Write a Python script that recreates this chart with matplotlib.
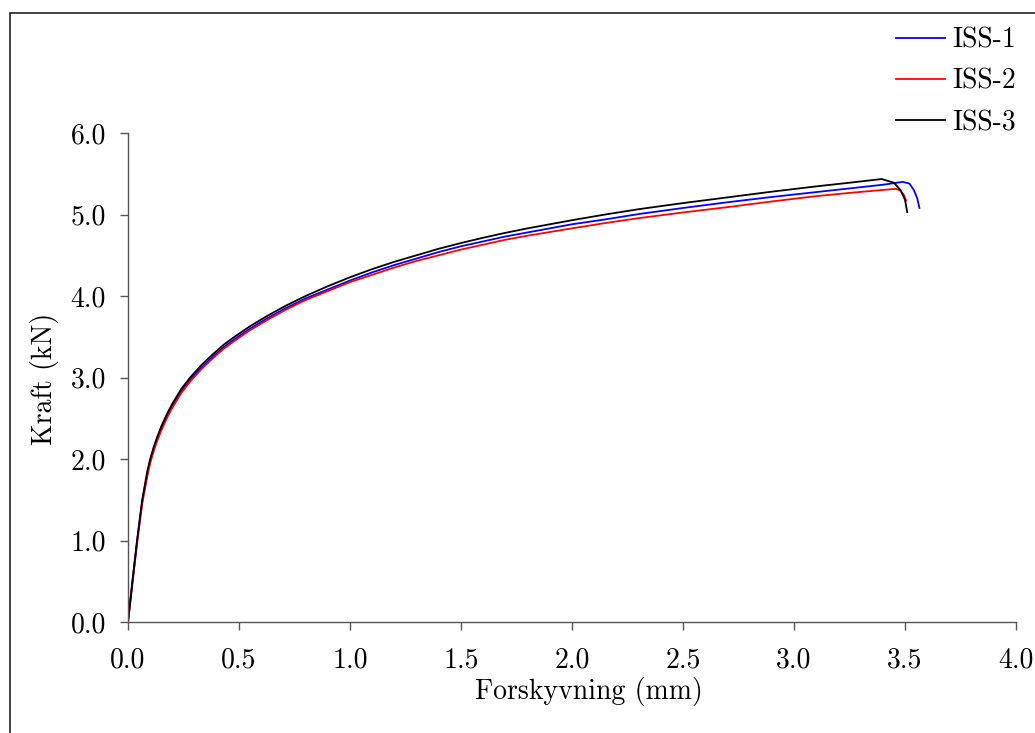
import matplotlib
matplotlib.use("Agg")
import matplotlib.pyplot as plt
from matplotlib.patches import Rectangle
from matplotlib.ticker import FormatStrFormatter

# kraft-forskyvning
x_iss3 = [0, 0.019, 0.041, 0.064, 0.087, 0.10, 0.115, 0.13, 0.15, 0.175, 0.2, 0.24, 0.28,
          0.33, 0.38, 0.43, 0.48, 0.55, 0.63, 0.71, 0.8, 0.9, 1.0, 1.1, 1.2, 1.3, 1.4, 1.5,
          1.6, 1.7, 1.8, 1.9, 2.0, 2.15, 2.3, 2.5, 2.7, 2.9, 3.1, 3.25, 3.395, 3.45, 3.48,
          3.50, 3.51]
y_iss3 = [0, 0.47, 1.0, 1.50, 1.85, 2.0, 2.14, 2.26, 2.40, 2.55, 2.68, 2.86, 3.0,
          3.15, 3.28, 3.40, 3.50, 3.63, 3.76, 3.88, 4.0, 4.12, 4.23, 4.33, 4.42, 4.50, 4.58, 4.65,
          4.715, 4.775, 4.83, 4.88, 4.93, 5.0, 5.065, 5.14, 5.21, 5.28, 5.345, 5.39, 5.435, 5.39, 5.30,
          5.18, 5.03]

x_iss1 = [0, 0.019, 0.041, 0.064, 0.087, 0.10, 0.115, 0.13, 0.15, 0.175, 0.2, 0.24, 0.28,
          0.33, 0.38, 0.43, 0.48, 0.55, 0.63, 0.71, 0.8, 0.9, 1.0, 1.1, 1.2, 1.3, 1.4, 1.5,
          1.6, 1.7, 1.8, 1.9, 2.0, 2.15, 2.3, 2.5, 2.7, 2.9, 3.1, 3.25, 3.4, 3.49, 3.52,
          3.54, 3.555, 3.565]
y_iss1 = [0, 0.48, 1.0, 1.48, 1.82, 1.98, 2.12, 2.24, 2.38, 2.53, 2.65, 2.83, 2.97,
          3.12, 3.25, 3.37, 3.47, 3.60, 3.73, 3.85, 3.97, 4.08, 4.19, 4.29, 4.38, 4.46, 4.54, 4.61,
          4.67, 4.73, 4.78, 4.83, 4.88, 4.94, 5.005, 5.08, 5.15, 5.215, 5.275, 5.32, 5.365, 5.40, 5.38,
          5.30, 5.20, 5.08]

x_iss2 = [0, 0.019, 0.041, 0.064, 0.087, 0.10, 0.115, 0.13, 0.15, 0.175, 0.2, 0.24, 0.28,
          0.33, 0.38, 0.43, 0.48, 0.55, 0.63, 0.71, 0.8, 0.9, 1.0, 1.1, 1.2, 1.3, 1.4, 1.5,
          1.6, 1.7, 1.8, 1.9, 2.0, 2.15, 2.3, 2.5, 2.7, 2.9, 3.1, 3.25, 3.395, 3.46, 3.48,
          3.495, 3.505]
y_iss2 = [0, 0.45, 0.97, 1.45, 1.79, 1.95, 2.09, 2.21, 2.35, 2.50, 2.63, 2.81, 2.95,
          3.10, 3.23, 3.35, 3.45, 3.58, 3.71, 3.83, 3.95, 4.06, 4.17, 4.26, 4.35, 4.43, 4.50, 4.57,
          4.63, 4.69, 4.74, 4.785, 4.83, 4.895, 4.955, 5.025, 5.09, 5.16, 5.225, 5.265, 5.30, 5.315, 5.29,
          5.24, 5.17]

labels = ["ISS-1", "ISS-2", "ISS-3"]
colors = ["#0000ff", "#ff0000", "#000000"]

plt.rcParams["font.family"] = ["cmr10", "DejaVu Serif"]
plt.rcParams["font.size"] = 20

fig = plt.figure(figsize=(10.35, 7.33), dpi=100)
ax = fig.add_axes([128 / 1035, 1 - 622 / 733, 888 / 1035, 489 / 733])

# ramme rundt figuren
fig.patches.append(Rectangle((10 / 1035, -0.1), 1.2, 1.1 - 13 / 733,
                             transform=fig.transFigure, fill=False,
                             edgecolor="#222222", linewidth=1.2))

for xs, ys, lab, c in zip([x_iss1, x_iss2, x_iss3], [y_iss1, y_iss2, y_iss3], labels, colors):
    ax.plot(xs, ys, color=c, linewidth=1.3, label=lab)

ax.set_xlim(0, 4.0)
ax.set_ylim(0, 6.0)
ax.set_xticks([0, 0.5, 1.0, 1.5, 2.0, 2.5, 3.0, 3.5, 4.0])
ax.set_yticks([0, 1, 2, 3, 4, 5, 6])
ax.xaxis.set_major_formatter(FormatStrFormatter("%.1f"))
ax.yaxis.set_major_formatter(FormatStrFormatter("%.1f"))
ax.spines["top"].set_visible(False)
ax.spines["right"].set_visible(False)
for s in ["left", "bottom"]:
    ax.spines[s].set_color("#555555")
    ax.spines[s].set_linewidth(1.0)
ax.tick_params(direction="out", length=6, width=1.0, color="#555555")
ax.tick_params(axis="x", pad=12)
ax.tick_params(axis="y", pad=10)

ax.set_xlabel("Forskyvning (mm)")
ax.set_ylabel("Kraft (kN)")
ax.xaxis.set_label_coords(0.519, -0.113)
ax.yaxis.set_label_coords(-0.078, 0.497)

fig.legend(loc="upper right", bbox_to_anchor=(1027 / 1035, 1 - 16 / 733), frameon=False,
           handlelength=1.75, handletextpad=0.25, labelspacing=0.54, borderaxespad=0)

plt.savefig("out.png", dpi=100)
